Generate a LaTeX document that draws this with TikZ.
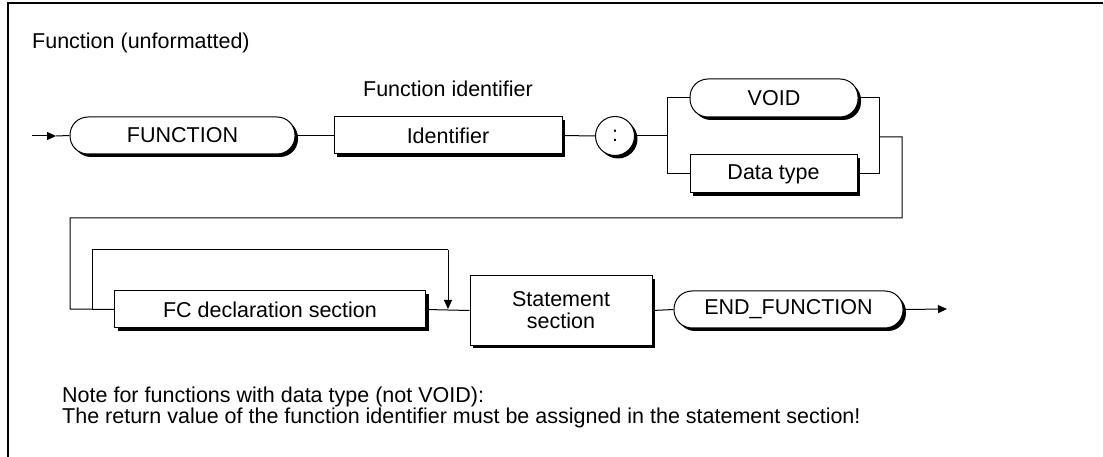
\documentclass[tikz,border=0pt]{standalone}
\usepackage{fontspec}
\setmainfont{Liberation Sans}
\usetikzlibrary{shadows,arrows.meta}
\begin{document}
\begin{tikzpicture}[x=1pt,y=-1pt,
  every node/.style={font=\fontsize{21.5}{24}\selectfont, inner sep=0pt},
  line/.style={line width=1pt},
  shad/.style={draw, line width=1pt, fill=white,
    drop shadow={shadow xshift=3pt,shadow yshift=-3pt,opacity=1,fill=black}},
  term/.style={shad, rounded corners=18pt, minimum height=37pt},
  nterm/.style={shad, minimum height=37pt},
  tip/.style={-{Triangle[length=9pt,width=8pt]}}
]
\useasboundingbox (0,0) rectangle (1104,457);
\draw[line width=1.2pt] (8,457) -- (8,3) -- (1103,3);
\draw[line width=1pt, black!15] (1103,3) -- (1103,457);

\node[anchor=base west] (title) at (32,49) {Function (unformatted)};

\coordinate (start) at (32,136);
\coordinate (amid) at (56,136);
\node[term, minimum width=225pt] (func) at (182.5,135.5) {FUNCTION};
\node[nterm, minimum width=228pt] (ident) at (448,135.5) {Identifier};
\node[anchor=base] (identlbl) at (448,97) {Function identifier};
\node[shad, circle, minimum size=39pt] (colon) at (615,136) {:};
\node[term, minimum width=168pt, minimum height=38pt] (void) at (774,98) {VOID};
\node[nterm, minimum width=167pt, minimum height=38pt] (dtype) at (773.5,174) {Data type};

\coordinate (jl) at (667,136);
\coordinate (jlt) at (667,98);
\coordinate (jlb) at (667,174);
\coordinate (jrt) at (879,98);
\coordinate (jrb) at (879,174);
\coordinate (jr) at (879,137);
\coordinate (r1) at (902,137);
\coordinate (r2) at (902,218);
\coordinate (r3) at (70,218);
\coordinate (r4) at (70,309);

\node[nterm, minimum width=311pt] (fc) at (270,309.5) {FC declaration section};
\node[shad, minimum width=182pt, minimum height=69pt, align=center,
  font=\fontsize{21.5}{22}\selectfont] (stmt) at (561,310.5) {Statement\\section};
\node[term, minimum width=229pt] (endf) at (788.5,309.5) {END\_FUNCTION};
\coordinate (exit) at (947,309);

\coordinate (l1) at (92,309);
\coordinate (l2) at (92,250);
\coordinate (l3) at (448,250);
\coordinate (l4) at (448,309);

\node[anchor=base west, align=left, font=\fontsize{21.5}{21}\selectfont] (note) at (62,423)
 {Note for functions with data type (not VOID):\\The return value of the function identifier must be assigned in the statement section!};

% connectors
\draw[line, tip] (start) -- (amid);
\draw[line] (amid) -- (func.west);
\draw[line] (func.east) -- (ident.west);
\draw[line] (ident.east) -- (colon.west);
\draw[line] (colon.east) -- (jl);
\draw[line] (jlt) -- (jlb);
\draw[line] (jlt) -- (void.west);
\draw[line] (jlb) -- (dtype.west);
\draw[line] (void.east) -- (jrt) -- (jrb) -- (dtype.east);
\draw[line] (jr) -- (r1) -- (r2) -- (r3) -- (r4) -- (fc.west);
\draw[line] (l1) -- (l2) -- (l3);
\draw[line, tip] (l3) -- (l4);
\draw[line] (fc.east) -- (stmt.west);
\draw[line] (stmt.east) -- (endf.west);
\draw[line, tip] (endf.east) -- (exit);
\end{tikzpicture}
\end{document}
